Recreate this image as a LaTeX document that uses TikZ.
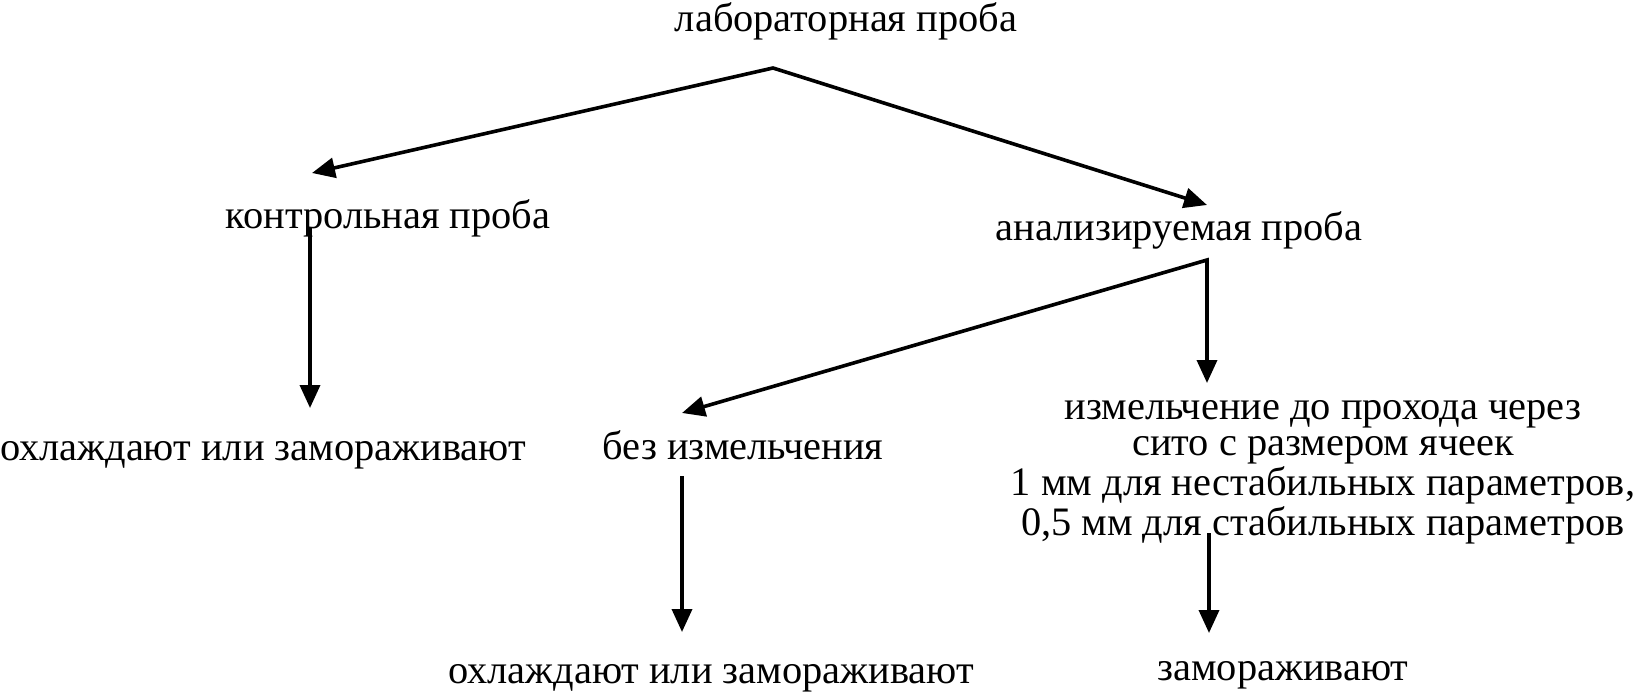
\documentclass[tikz,border=0pt]{standalone}
\usepackage{fontspec}
\setmainfont{Liberation Serif}
\usetikzlibrary{arrows.meta}

\begin{document}
\begin{tikzpicture}[x=0.5pt, y=-0.5pt, >={Triangle[length=11.5pt,width=10pt]}, line width=1.8pt,
  every node/.style={font=\fontsize{20.2}{18}\selectfont, inner sep=0pt, anchor=base}]
\useasboundingbox (0,0) rectangle (1633,696);
% texts
\node (lab) at (846,32) {лабораторная проба};
\node (ctrl) at (388,228) {контрольная проба};
\node (ana) at (1179,240) {анализируемая проба};
\node (cool1) at (263,460) {охлаждают или замораживают};
\node (bez) at (743,459) {без измельчения};
\node[align=center] (izm) at (1323,535) {измельчение до прохода через\\сито с размером ячеек\\1 мм для нестабильных параметров,\\0,5 мм для стабильных параметров};
\node (cool2) at (711,683) {охлаждают или замораживают};
\node (frz) at (1283,680) {замораживают};
% junctions and arrow ends
\coordinate (fork1) at (773,68);
\coordinate (ctrlin) at (312,173);
\coordinate (anain) at (1207,205);
\coordinate (ctrlout) at (310,228);
\coordinate (cool1in) at (310,408);
\coordinate (fork2) at (1207,260);
\coordinate (bezin) at (682,413);
\coordinate (izmin) at (1207,383);
\coordinate (bezout) at (682,476);
\coordinate (cool2in) at (682,632);
\coordinate (izmout) at (1209,533);
\coordinate (frzin) at (1209,633);
% arrows
\draw[<->] (ctrlin) -- (fork1) -- (anain);
\draw[->] (ctrlout) -- (cool1in);
\draw[<->] (bezin) -- (fork2) -- (izmin);
\draw[->] (bezout) -- (cool2in);
\draw[->] (izmout) -- (frzin);
\end{tikzpicture}
\end{document}
